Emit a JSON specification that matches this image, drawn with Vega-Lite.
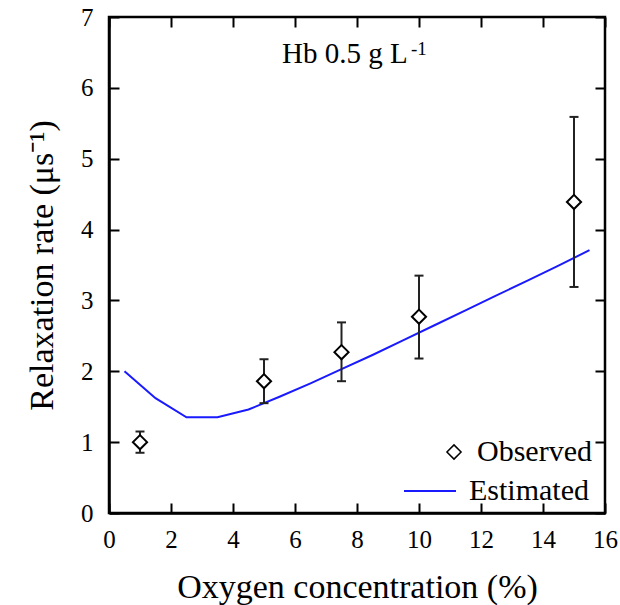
{
  "$schema": "https://vega.github.io/schema/vega-lite/v6.json",
  "width": 496,
  "height": 496,
  "autosize": "none",
  "padding": {"left": 109, "top": 17, "right": 15, "bottom": 92},
  "background": "white",
  "config": {
    "view": {"stroke": "black", "strokeWidth": 2.5},
    "font": "Liberation Serif",
    "axis": {
      "domainColor": "black",
      "domainWidth": 2.5,
      "labelFont": "Liberation Serif",
      "labelFontSize": 25,
      "labelColor": "black",
      "titleFont": "Liberation Serif",
      "titleFontSize": 34,
      "titleFontWeight": "normal",
      "titleColor": "black",
      "labelFlush": false,
      "labelOverlap": false
    },
    "legend": {
      "labelFont": "Liberation Serif",
      "labelFontSize": 30,
      "labelColor": "black",
      "padding": 0
    }
  },
  "datasets": {
    "obs": [
      {"conc": 1, "rate": 1.0, "lo": 0.85, "hi": 1.15, "kind": "Observed"},
      {"conc": 5, "rate": 1.86, "lo": 1.55, "hi": 2.17, "kind": "Observed"},
      {"conc": 7.5, "rate": 2.27, "lo": 1.86, "hi": 2.69, "kind": "Observed"},
      {"conc": 10, "rate": 2.77, "lo": 2.18, "hi": 3.35, "kind": "Observed"},
      {"conc": 15, "rate": 4.39, "lo": 3.19, "hi": 5.59, "kind": "Observed"}
    ],
    "est": [
      {"conc": 0.5, "rate": 2.0, "model": "Estimated"},
      {"conc": 1.5, "rate": 1.62, "model": "Estimated"},
      {"conc": 2.5, "rate": 1.35, "model": "Estimated"},
      {"conc": 3.5, "rate": 1.35, "model": "Estimated"},
      {"conc": 4.5, "rate": 1.46, "model": "Estimated"},
      {"conc": 5.5, "rate": 1.64, "model": "Estimated"},
      {"conc": 6.5, "rate": 1.83, "model": "Estimated"},
      {"conc": 7.5, "rate": 2.03, "model": "Estimated"},
      {"conc": 8.5, "rate": 2.23, "model": "Estimated"},
      {"conc": 9.5, "rate": 2.44, "model": "Estimated"},
      {"conc": 10.5, "rate": 2.65, "model": "Estimated"},
      {"conc": 11.5, "rate": 2.86, "model": "Estimated"},
      {"conc": 12.5, "rate": 3.07, "model": "Estimated"},
      {"conc": 13.5, "rate": 3.28, "model": "Estimated"},
      {"conc": 14.5, "rate": 3.49, "model": "Estimated"},
      {"conc": 15.5, "rate": 3.71, "model": "Estimated"}
    ],
    "note": [{"label": "Hb 0.5 g L"}]
  },
  "layer": [
    {
      "data": {"name": "est"},
      "mark": {"type": "line", "strokeWidth": 2},
      "encoding": {
        "x": {
          "field": "conc", "type": "quantitative",
          "scale": {"domain": [0, 16], "nice": false, "zero": false},
          "axis": {
            "orient": "bottom",
            "title": "Oxygen concentration (%)",
            "values": [0,1,2,3,4,5,6,7,8,9,10,11,12,13,14,15,16],
            "labelExpr": "datum.value % 2 === 0 ? datum.label : ''",
            "ticks": false,
            "tickSize": 0,
            "grid": true,
            "gridColor": "black",
            "gridOpacity": 1,
            "gridWidth": 2,
            "gridDash": {"condition": {"test": "datum.value % 2 === 0", "value": [10, 476, 10, 0]}, "value": [5, 486, 5, 0]},
            "labelPadding": 14,
            "titlePadding": 18
          }
        },
        "y": {
          "field": "rate", "type": "quantitative",
          "scale": {"domain": [0, 7], "nice": false},
          "axis": {
            "orient": "left",
            "title": "Relaxation rate (μs⁻¹)",
            "values": [0,0.5,1,1.5,2,2.5,3,3.5,4,4.5,5,5.5,6,6.5,7],
            "format": "d",
            "labelExpr": "datum.value % 1 === 0 ? datum.label : ''",
            "ticks": false,
            "tickSize": 0,
            "grid": true,
            "gridColor": "black",
            "gridOpacity": 1,
            "gridWidth": 2,
            "gridDash": {"condition": {"test": "datum.value % 1 === 0", "value": [10, 476, 10, 0]}, "value": [5, 486, 5, 0]},
            "labelPadding": 16,
            "titlePadding": 21
          }
        },
        "color": {
          "field": "model", "type": "nominal",
          "scale": {"range": ["#1a1aff"]},
          "legend": {"title": null, "orient": "none", "legendX": 294, "legendY": 447, "symbolType": "stroke", "symbolSize": 2704, "symbolStrokeWidth": 2, "labelOffset": 12}
        }
      }
    },
    {
      "data": {"name": "obs"},
      "mark": {"type": "rule", "color": "#222222", "strokeWidth": 2},
      "encoding": {
        "x": {"field": "conc", "type": "quantitative"},
        "y": {"field": "lo", "type": "quantitative"},
        "y2": {"field": "hi"}
      }
    },
    {
      "data": {"name": "obs"},
      "mark": {"type": "point", "shape": "M-1,0L1,0", "size": 81, "filled": false, "stroke": "#222222", "strokeWidth": 2, "opacity": 1},
      "encoding": {
        "x": {"field": "conc", "type": "quantitative"},
        "y": {"field": "lo", "type": "quantitative"}
      }
    },
    {
      "data": {"name": "obs"},
      "mark": {"type": "point", "shape": "M-1,0L1,0", "size": 81, "filled": false, "stroke": "#222222", "strokeWidth": 2, "opacity": 1},
      "encoding": {
        "x": {"field": "conc", "type": "quantitative"},
        "y": {"field": "hi", "type": "quantitative"}
      }
    },
    {
      "data": {"name": "obs"},
      "mark": {"type": "point", "shape": "diamond", "fill": "white", "stroke": "black", "strokeWidth": 2, "filled": false, "fillOpacity": 1, "opacity": 1, "size": 200},
      "encoding": {
        "x": {"field": "conc", "type": "quantitative"},
        "y": {"field": "rate", "type": "quantitative"},
        "shape": {
          "field": "kind", "type": "nominal",
          "scale": {"range": ["diamond"]},
          "legend": {
            "title": null, "orient": "none", "legendX": 330, "legendY": 420,
            "symbolSize": 200, "labelOffset": 8,
            "encode": {"symbols": {"update": {"stroke": {"value": "black"}, "fill": {"value": "white"}, "strokeWidth": {"value": 2}, "opacity": {"value": 1}}}}
          }
        }
      }
    },
    {
      "data": {"name": "note"},
      "mark": {"type": "text", "align": "left", "baseline": "alphabetic", "fontSize": 29, "font": "Liberation Serif", "color": "black"},
      "encoding": {
        "x": {"datum": 5.58, "type": "quantitative"},
        "y": {"datum": 6.35, "type": "quantitative"},
        "text": {"field": "label"}
      }
    },
    {
      "data": {"name": "note"},
      "mark": {"type": "text", "align": "left", "baseline": "alphabetic", "fontSize": 19, "font": "Liberation Serif", "color": "black"},
      "encoding": {
        "x": {"datum": 9.74, "type": "quantitative"},
        "y": {"datum": 6.47, "type": "quantitative"},
        "text": {"value": "-1"}
      }
    }
  ]
}
